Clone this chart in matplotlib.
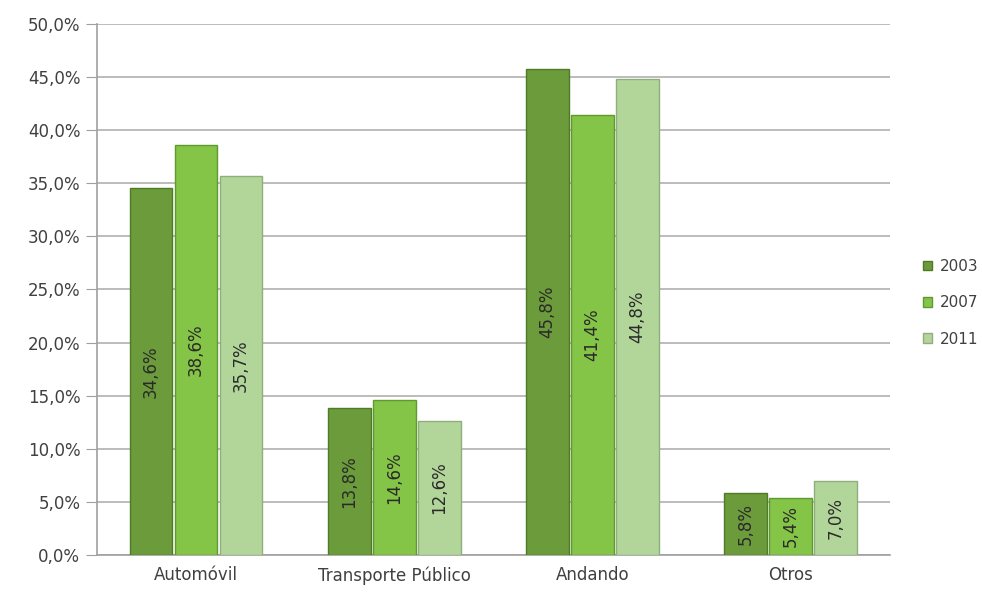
import matplotlib.pyplot as plt
import numpy as np
from matplotlib.ticker import FuncFormatter

plt.rcParams['font.family'] = ['DejaVu Sans']

categories = ['Automóvil', 'Transporte Público', 'Andando', 'Otros']
years = ['2003', '2007', '2011']
values_2003 = [34.6, 13.8, 45.8, 5.8]
values_2007 = [38.6, 14.6, 41.4, 5.4]
values_2011 = [35.7, 12.6, 44.8, 7.0]

series = [values_2003, values_2007, values_2011]
colors = ['#6b9b3a', '#84c446', '#b2d69a']
edges = ['#4f7a28', '#5f9a2e', '#8fae7c']

fig = plt.figure(figsize=(9.82, 5.95), dpi=100)
ax = fig.add_axes([0.0988, 0.0672, 0.8072, 0.8925])

x = np.arange(len(categories))
width = 0.215
offsets = [-width - 0.012, 0, width + 0.012]

for vals, off, c, ec, yr in zip(series, offsets, colors, edges, years):
    bars = ax.bar(x + off, vals, width, color=c, edgecolor=ec, linewidth=1.0,
                  label=yr, zorder=3)
    for b, v in zip(bars, vals):
        ax.text(b.get_x() + b.get_width() / 2, v / 2,
                ('%.1f%%' % v).replace('.', ','),
                rotation=90, ha='center', va='center',
                fontsize=12, color='#2a2a2a', zorder=4)

ax.set_ylim(0, 50)
ax.set_xlim(-0.5, 3.5)
ax.set_yticks(np.arange(0, 51, 5))
ax.yaxis.set_major_formatter(FuncFormatter(lambda v, p: ('%.1f%%' % v).replace('.', ',')))
ax.set_xticks(x)
ax.set_xticklabels(categories)
ax.tick_params(axis='y', length=8, color='#a0a0a0', labelsize=12, labelcolor='#404040', pad=4)
ax.tick_params(axis='x', length=0, labelsize=12, labelcolor='#404040', pad=8)

ax.grid(axis='y', color='#b0b0b0', linewidth=1.2, zorder=0)
for s in ['top', 'right']:
    ax.spines[s].set_visible(False)
ax.spines['left'].set_color('#a0a0a0')
ax.spines['left'].set_linewidth(1.2)
ax.spines['bottom'].set_color('#a0a0a0')
ax.spines['bottom'].set_linewidth(1.2)

leg = ax.legend(loc='center left', bbox_to_anchor=(1.025, 0.475), frameon=False,
                fontsize=11, handlelength=0.6, handleheight=0.6,
                labelspacing=1.4, handletextpad=0.5)
for t in leg.get_texts():
    t.set_color('#404040')

plt.savefig('out.png', dpi=100)
